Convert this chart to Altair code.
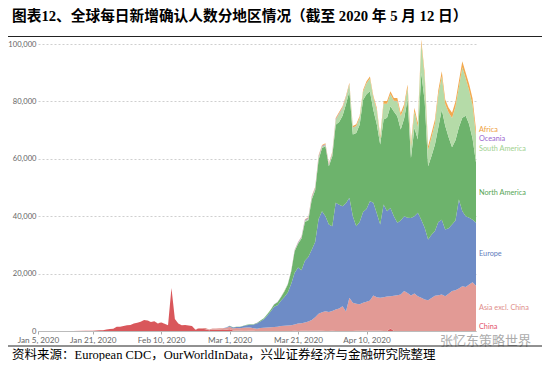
import altair as alt
import pandas as pd

# ---------------- data ----------------
REGIONS = ["China", "Asia excl. China", "Europe", "North America",
           "South America", "Oceania", "Africa"]

early_dates = [
    "2020-01-05", "2020-01-15", "2020-01-19", "2020-01-21", "2020-01-22",
    "2020-01-23", "2020-01-24", "2020-01-25", "2020-01-26", "2020-01-27",
    "2020-01-28", "2020-01-29", "2020-01-30", "2020-01-31", "2020-02-01",
    "2020-02-02", "2020-02-03", "2020-02-04", "2020-02-05", "2020-02-06",
    "2020-02-07", "2020-02-08", "2020-02-09", "2020-02-10", "2020-02-11",
    "2020-02-12", "2020-02-13", "2020-02-14", "2020-02-15", "2020-02-16",
    "2020-02-17", "2020-02-18", "2020-02-19", "2020-02-20", "2020-02-21",
    "2020-02-22", "2020-02-23", "2020-02-24", "2020-02-25", "2020-02-26",
    "2020-02-27", "2020-02-28",
]
china_early = [0, 0, 60, 120, 150, 250, 300, 500, 700, 800,
               1500, 1500, 1750, 2000, 2100, 2600, 2850, 3250, 3850, 3700,
               3150, 3400, 2650, 3000, 2500, 2000, 15000, 4200, 2600, 2000,
               2050, 1900, 1750, 400, 900, 800, 650, 250, 500, 400,
               430, 330]
asia_early = [0, 0, 0, 0, 0, 5, 5, 5, 5, 5,
              10, 10, 10, 10, 10, 10, 10, 15, 15, 15,
              15, 15, 15, 15, 15, 15, 20, 20, 20, 20,
              20, 20, 30, 100, 150, 250, 400, 250, 350, 450,
              550, 600]

# daily from 2020-02-29 to 2020-05-12
late_start, late_end = "2020-02-29", "2020-05-12"
china_late = [430, 570, 200, 125, 120, 140, 140, 100, 45, 20, 30, 25, 10, 10, 20,
              20, 30, 15, 40, 40, 60, 40, 50, 80, 150, 70,
              70, 60, 50, 40, 30, 50, 40, 40, 30, 40,
              30, 40, 60, 80, 60, 50, 100, 60, 90, 50,
              40, 30, 900, 30, 20, 20, 30, 10, 10, 10,
              10, 5, 5, 5, 5, 5, 10, 5, 5, 5,
              5, 5, 5, 10, 10, 10, 10, 10]
asia_late = [600, 900, 700, 900, 800, 1000, 1100, 1100, 900, 800, 1000, 1100, 1200, 1300, 1400,
             1480, 1670, 1790, 1860, 1960, 2240, 2560, 2650, 2920, 3150, 3730,
             4730, 5940, 6450, 6860, 6570, 6950, 7460, 7760, 8570, 6760,
             11570, 9760, 9440, 9220, 9740, 10150, 10500, 12340, 11710, 11550,
             11760, 11970, 11200, 12270, 12480, 12680, 13870, 13190, 12390, 13090,
             12090, 11600, 11000, 10700, 11500, 12300, 12490, 12700, 12100, 13000,
             13900, 14200, 14800, 15590, 15290, 16190, 16990, 15790]
europe_late = [200, 300, 350, 400, 500, 600, 800, 1000, 1300, 1800, 2300, 3000, 4200, 5500, 7000,
               7500, 8800, 10000, 11500, 14500, 18000, 19500, 18500, 21500, 22500, 24500,
               26200, 33000, 35200, 33100, 30500, 29500, 37200, 36200, 34900, 37700,
               34800, 30200, 27000, 28700, 31700, 32300, 34600, 32300, 29200, 25500,
               32300, 29700, 30800, 27700, 25200, 25800, 26100, 26300, 27000, 26900,
               29100, 27200, 25000, 21200, 22000, 22500, 25500, 26100, 23300, 22800,
               23200, 24300, 31000, 26100, 24700, 23300, 21800, 21900]
north_america_late = [10, 20, 30, 40, 60, 70, 100, 120, 150, 200, 300, 350, 450, 600, 800,
                      1000, 1300, 2000, 2800, 4200, 7500, 8300, 11000, 13500, 12800, 17500,
                      18000, 20700, 22100, 24400, 20300, 24400, 27200, 28800, 31500, 34500,
                      37100, 28500, 32500, 33900, 39000, 40000, 38300, 32300, 31000, 27900,
                      29600, 32600, 35400, 36500, 37100, 31700, 34000, 41200, 20900, 30800,
                      25500, 51100, 44100, 25500, 27500, 30200, 33000, 38400, 36100, 31700,
                      26900, 28000, 25200, 32600, 35000, 32500, 28200, 21000]
south_america_late = [0, 0, 0, 0, 0, 0, 2, 5, 10, 10, 20, 30, 40, 50, 50,
                      60, 80, 100, 150, 200, 250, 300, 350, 450, 500, 600,
                      550, 800, 450, 450, 450, 900, 1650, 2800, 2650, 2350,
                      2370, 2300, 2370, 2330, 2840, 3740, 4450, 4210, 5010, 2160,
                      5470, 4870, 4230, 3670, 5280, 4680, 3880, 3980, 4080, 5680,
                      4480, 10280, 8380, 5680, 6480, 7180, 11380, 11580, 7580, 8580,
                      10180, 11580, 13980, 17580, 12980, 11780, 11680, 9280]
oceania_late = [3, 3, 5, 5, 5, 10, 10, 10, 15, 15, 20, 20, 30, 30, 30,
                30, 40, 50, 80, 100, 150, 200, 250, 300, 350, 380,
                350, 400, 300, 250, 250, 250, 250, 250, 200, 150,
                130, 100, 80, 70, 60, 60, 50, 40, 40, 40,
                30, 30, 20, 30, 20, 20, 20, 20, 20, 20,
                20, 20, 20, 20, 20, 20, 20, 20, 20, 20,
                20, 20, 20, 20, 20, 20, 20, 20]
africa_late = [0, 1, 1, 2, 3, 3, 5, 5, 10, 10, 15, 20, 20, 30, 30,
               30, 40, 50, 60, 80, 100, 130, 150, 200, 220, 250,
               300, 300, 250, 300, 300, 350, 400, 450, 450, 500,
               500, 500, 550, 600, 600, 700, 700, 750, 750, 800,
               900, 900, 950, 1000, 1100, 1100, 1100, 1200, 1200, 1300,
               1300, 1400, 1400, 1300, 1500, 1500, 1600, 1700, 1600, 1700,
               1800, 1900, 2000, 2100, 2000, 2200, 2300, 2200]

x_ticks = [(2020, 1, 5), (2020, 1, 21), (2020, 2, 10), (2020, 3, 1), (2020, 3, 21), (2020, 4, 10)]
y_ticks = [0, 20000, 40000, 60000, 80000, 100000]

TITLE = "图表12、全球每日新增确认人数分地区情况（截至 2020 年 5 月 12 日）"
SOURCE = "资料来源：European CDC，OurWorldInData，兴业证券经济与金融研究院整理"
WATERMARK = "张忆东策略世界"

area_colors = ["#d9575b", "#e29a95", "#6e8cc6", "#6db36c", "#b5dba8", "#a67fcf", "#f2a94f"]
label_colors = ["#e2506b", "#e08e8a", "#5f7dbd", "#58a657", "#9fd18f", "#9a66cf", "#eea03c"]

# ---------------- table ----------------
late_dates = [d.strftime("%Y-%m-%d") for d in pd.date_range(late_start, late_end, freq="D")]
dates = early_dates + late_dates
n_early = len(early_dates)
series = {
    "China": china_early + china_late,
    "Asia excl. China": asia_early + asia_late,
    "Europe": [0] * n_early + europe_late,
    "North America": [0] * n_early + north_america_late,
    "South America": [0] * n_early + south_america_late,
    "Oceania": [0] * n_early + oceania_late,
    "Africa": [0] * n_early + africa_late,
}
for k, v in series.items():
    assert len(v) == len(dates), (k, len(v), len(dates))

rows = []
for i, reg in enumerate(REGIONS):
    for d, v in zip(dates, series[reg]):
        rows.append({"date": d, "region": reg, "cases": v, "order": i})
df = pd.DataFrame(rows)

# end labels: centre of each band on the last day, pushed apart to avoid overlap
cum = 0
pos = []
for reg in REGIONS:
    lo = cum
    cum += series[reg][-1]
    pos.append((lo + cum) / 2)
gap, floor = 2950, 1300
for _ in range(200):
    pos[0] = max(pos[0], floor)
    for i in range(1, len(pos)):
        d = pos[i] - pos[i - 1]
        if d < gap:
            s = (gap - d) / 2
            pos[i] += s
            pos[i - 1] -= s
    pos[0] = max(pos[0], floor)
lab_df = pd.DataFrame({"date": [dates[-1]] * len(REGIONS), "region": REGIONS,
                       "pos": pos, "lcolor": label_colors})

# ---------------- chart ----------------
W, H = 438, 287
dt = lambda y, m, d: alt.DateTime(year=y, month=m, date=d, utc=True)

x_enc = alt.X("date:T",
              scale=alt.Scale(type="utc", domain=[dt(2020, 1, 5), dt(2020, 5, 12)]),
              axis=alt.Axis(values=[dt(*t) for t in x_ticks], format="%b %-d, %Y",
                            labelFont="Lato", labelFontSize=8.2, labelColor="#666",
                            labelOverlap=False, labelFlush=False,
                            tickColor="#aaa", tickSize=3, domainColor="#bbb",
                            grid=False, title=None, labelPadding=2))
y_enc = alt.Y("cases:Q", stack="zero",
              scale=alt.Scale(domain=[0, 100000], nice=False),
              axis=alt.Axis(values=y_ticks, format=",d", labelFont="Lato",
                            labelFontSize=7.6, labelColor="#666", grid=True,
                            gridDash=[2, 2], gridColor="#cfcfcf", domain=False,
                            ticks=False, labelPadding=2, title=None))

area = alt.Chart(df).mark_area(interpolate="linear").encode(
    x=x_enc, y=y_enc,
    color=alt.Color("region:N", scale=alt.Scale(domain=REGIONS, range=area_colors), legend=None),
    order=alt.Order("order:Q", sort="ascending"),
)

labels = alt.Chart(lab_df).mark_text(align="left", baseline="middle", dx=3,
                                     font="Lato", fontSize=7.3).encode(
    x="date:T", y="pos:Q", text="region:N",
    color=alt.Color("lcolor:N", scale=None),
)

one = pd.DataFrame({"t": [TITLE], "s": [SOURCE], "w": [WATERMARK]})
title = alt.Chart(one).mark_text(align="left", baseline="middle", fontSize=14.7,
                                 fontWeight="bold", color="#000",
                                 font="Liberation Serif, Noto Sans CJK SC").encode(
    x=alt.value(-26), y=alt.value(-27), text="t:N")
source = alt.Chart(one).mark_text(align="left", baseline="middle", fontSize=12.5,
                                  color="#000",
                                  font="Liberation Serif, Noto Sans CJK SC").encode(
    x=alt.value(-26), y=alt.value(310.5), text="s:N")
water = alt.Chart(one).mark_text(align="left", baseline="middle", fontSize=13,
                                 color="#8a8a8a", opacity=0.7,
                                 font="Noto Sans CJK SC").encode(
    x=alt.value(402), y=alt.value(297), text="w:N")
rule_top = alt.Chart(one).mark_rule(color="#222", strokeWidth=1).encode(
    x=alt.value(-30), x2=alt.value(504), y=alt.value(-7.5))
rule_bot = alt.Chart(one).mark_rule(color="#222", strokeWidth=1).encode(
    x=alt.value(-30), x2=alt.value(504), y=alt.value(302))

chart = alt.layer(area, labels, title, source, water, rule_top, rule_bot).properties(
    width=W, height=H,
    autosize=alt.AutoSizeParams(type="none"),
    padding={"left": 30, "top": 36, "right": 66, "bottom": 30},
    background="white",
).configure_view(stroke="transparent")

chart.save("out.html", embed_options={"renderer": "svg", "actions": False})
